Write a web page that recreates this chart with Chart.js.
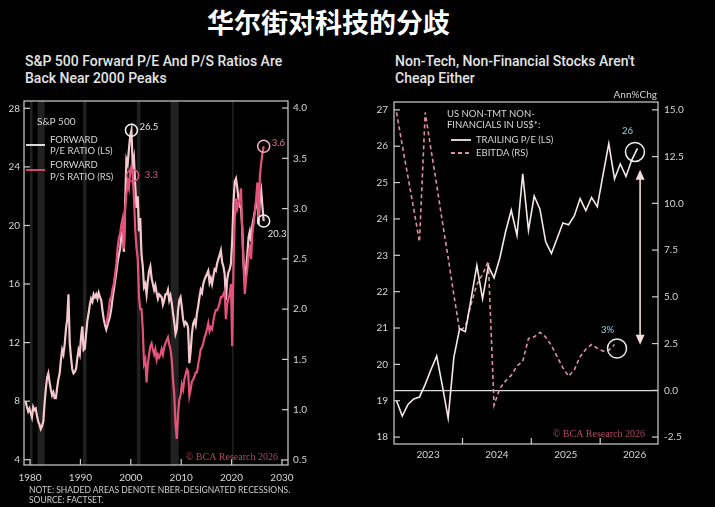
<!DOCTYPE html>
<html>
<head>
<meta charset="utf-8">
<script src="https://cdn.jsdelivr.net/npm/chart.js@4.4.1/dist/chart.umd.min.js"></script>
<style>
  html, body { margin: 0; padding: 0; background: #000; }
  body { width: 715px; height: 507px; position: relative; overflow: hidden; font-family: Roboto, "Open Sans", sans-serif; }
  .head { position: absolute; left: 0; width: 657px; top: 2px; text-align: center; color: #fff; font: 700 27px "Noto Sans CJK SC"; }
  .title { position: absolute; top: 53px; color: #e4e4e4; font-size: 14px; font-weight: 500; line-height: 17px; white-space: nowrap; }
  .note { position: absolute; left: 29px; top: 485px; color: #cfcfcf; font: 8.5px Lato; line-height: 10px; }
  canvas { position: absolute; }
</style>
</head>
<body>
<div class="head">华尔街对科技的分歧</div>
<div class="title" style="left:25px">S&amp;P 500 Forward P/E And P/S Ratios Are<br>Back Near 2000 Peaks</div>
<div class="title" style="left:395px">Non-Tech, Non-Financial Stocks Aren't<br>Cheap Either</div>
<canvas id="left" width="330" height="400" style="left:0;top:90px"></canvas>
<canvas id="right" width="328" height="374" style="left:370px;top:90px"></canvas>
<div class="note">NOTE: SHADED AREAS DENOTE NBER-DESIGNATED RECESSIONS.<br>SOURCE: FACTSET.</div>

<script>
// ---- left panel: S&P 500 forward ratios (quarterly, from 1979 Q1)
const peStart = 1979.125;
const peValues = [
  8.0, 7.6, 7.3, 7.5,   7.2, 6.9, 7.6, 7.4,   7.5, 7.0, 6.6, 6.4,   6.1, 6.3, 6.6, 7.8,
  8.8, 9.6, 9.9, 9.3,   8.8, 8.4, 8.6, 8.2,   8.2, 8.9, 9.5, 9.9,   10.8, 11.5, 11.2, 11.9,
  12.9, 13.6, 15.3, 12.0, 11.0, 10.2, 9.9, 10.0, 10.2, 10.9, 11.5, 11.2, 12.4, 13.1, 11.5, 11.6,
  12.6, 13.5, 14.0, 14.6, 15.0, 14.8, 15.3, 15.1, 15.3, 15.0, 15.4, 15.1, 14.9, 14.2, 13.6, 13.2,
  12.9, 13.2, 13.5, 13.8, 14.3, 15.0, 15.6, 16.2, 16.8, 17.5, 18.0, 18.4, 19.3, 19.6, 18.2, 21.5,
  24.5, 24.2, 25.2, 26.1, 26.5, 24.1, 24.6, 22.8, 21.2, 22.0, 19.6, 20.5, 18.0, 17.2, 15.8, 16.0,
  15.3, 16.2, 16.9, 17.2, 16.4, 16.0, 15.6, 15.9, 15.4, 15.0, 15.3, 15.2, 15.1, 14.6, 14.9, 15.3,
  15.3, 15.6, 14.9, 15.2, 14.7, 14.0, 13.4, 12.6, 12.9, 14.2, 14.9, 15.1, 14.4, 13.6, 13.2, 13.4,
  13.3, 13.0, 10.6, 11.4, 12.6, 13.3, 13.5, 13.2, 14.0, 14.5, 15.1, 15.6, 15.4, 16.0, 16.3, 16.5,
  16.7, 16.9, 16.1, 16.4, 16.0, 16.5, 17.0, 16.9, 17.4, 17.7, 18.0, 18.3, 17.5, 17.2, 16.7, 14.9,
  16.3, 16.8, 17.0, 17.4, 19.0, 21.5, 23.0, 23.2, 22.6, 21.8, 21.3, 21.2, 19.8, 17.4, 16.2, 17.0,
  18.0, 19.2, 19.6, 18.9, 20.0, 20.5, 21.0, 21.5, 21.8, 20.1, 21.9, 22.4, 21.3, 20.3
];
const psStart = 1995.125;
const psValues = [
  1.85, 1.92, 2.0, 2.1,  2.12, 2.2, 2.25, 2.35,  2.45, 2.61, 2.7, 2.75,  2.84, 2.9, 2.6, 3.0,
  3.15, 3.25, 3.2, 3.38, 3.42, 3.33, 3.1, 2.8,   2.61, 2.5, 2.12, 2.0,   2.0, 1.8, 1.46, 1.5,
  1.27, 1.45, 1.55, 1.63, 1.66, 1.6, 1.55, 1.6,  1.5, 1.55, 1.52, 1.55,  1.6, 1.55, 1.62, 1.66,
  1.69, 1.72, 1.65, 1.6, 1.5, 1.3, 1.15, 0.85,   0.71, 0.95, 1.1, 1.14,  1.25, 1.2, 1.3, 1.35,
  1.4, 1.38, 1.14, 1.2,  1.28, 1.3, 1.33, 1.37,  1.37, 1.45, 1.52, 1.6,  1.62, 1.66, 1.72, 1.75,
  1.8, 1.86, 1.78, 1.82, 1.8, 1.88, 1.95, 1.99,  1.99, 2.02, 2.06, 2.12,  2.12, 2.15, 2.18, 1.9,
  2.05, 2.1, 2.15, 2.25, 1.63, 2.4, 2.9, 3.1,    3.0, 3.05, 3.1, 3.2,    2.75, 2.44, 2.15, 2.3,
  2.4, 2.55, 2.61, 2.5,  2.75, 2.85, 2.97, 3.1,  3.26, 2.9, 3.33, 3.45,  3.55, 3.62
];
const recStart = [1980.0, 1981.5, 1990.5, 2001.2, 2007.9, 2020.1];
const recEnd   = [1980.5, 1982.9, 1991.2, 2001.9, 2009.5, 2020.3];
const leftYears = [1980, 1990, 2000, 2010, 2020, 2030];
const peTicks = [4, 8, 12, 16, 20, 24, 28];
const psTicks = [0.5, 1.0, 1.5, 2.0, 2.5, 3.0, 3.5, 4.0];

// ---- right panel: US non-TMT non-financials (monthly, from Jul 2022)
const monthStart = 2022.5;
const trailingPE = [
  19.0, 18.58, 18.9, 19.05, 19.1, 19.45, 19.85, 20.23, 19.4, 18.52, 20.2, 20.98,
  20.9, 21.8, 22.72, 21.8, 22.7, 22.38, 22.92, 23.64, 24.24, 23.55, 25.24, 23.69,
  24.63, 24.27, 23.37, 23.05, 23.47, 23.89, 23.84, 24.09, 24.56, 24.23, 24.59, 24.34,
  25.22, 26.07, 25.1, 25.51, 25.17, 25.62, 25.94
];
const ebitdaGrowth = [
  14.86, 13.1, 11.4, 9.7, 7.94, 14.86, 12.9, 11.0, 9.0, 7.1, 5.1, 3.2,
  3.4, 4.6, 5.66, 6.2, 6.9, -0.8, 0.1, 0.5, 0.8, 1.3, 1.55, 2.77,
  2.86, 3.1, 2.85, 2.4, 1.8, 1.2, 0.75, 1.1, 1.8, 2.2, 2.45, 2.25,
  2.1, 2.15, 2.45
];
const rightYears = [2023, 2024, 2025, 2026];
const rightYearMarks = [2023.5, 2024.5, 2025.5];
const trailTicks = [18, 19, 20, 21, 22, 23, 24, 25, 26, 27];
const ebitdaTicks = [-2.5, 0, 2.5, 5, 7.5, 10, 12.5, 15];

const AXIS = '#cfcfcf';
const TXT = '#d6d6d6';
const PINK = '#e3527a';
const LIGHT = '#f5c8cf';

Chart.defaults.font.family = 'Lato';
Chart.defaults.font.size = 10;
Chart.defaults.color = TXT;

const setTicks = (vals) => (s) => { s.ticks = vals.map(v => ({ value: v })); };

// frame, inward tick marks, shading, in-plot legend and callouts
const panel = {
  id: 'panel',
  beforeDatasetsDraw(chart, args, o) {
    const { ctx, chartArea: a, scales } = chart;
    if (!o.shade) return;
    ctx.save();
    ctx.fillStyle = 'rgba(255,255,255,0.13)';
    o.shade.start.forEach((s, i) => {
      const x0 = scales.x.getPixelForValue(s);
      const x1 = scales.x.getPixelForValue(o.shade.end[i]);
      ctx.fillRect(x0, a.top, Math.max(1.5, x1 - x0), a.bottom - a.top);
    });
    ctx.restore();
  },
  afterDraw(chart, args, o) {
    const { ctx, chartArea: a, scales } = chart;
    ctx.save();
    ctx.strokeStyle = AXIS;
    ctx.lineWidth = 1.2;
    ctx.strokeRect(a.left, a.top, a.right - a.left, a.bottom - a.top);
    const seg = (x1, y1, x2, y2) => { ctx.beginPath(); ctx.moveTo(x1, y1); ctx.lineTo(x2, y2); ctx.stroke(); };
    ['y', 'y1'].forEach(id => {
      const s = scales[id];
      s.ticks.forEach(t => {
        const y = s.getPixelForValue(t.value);
        if (s.position === 'left') seg(a.left, y, a.left + 6, y);
        else seg(a.right - 6, y, a.right, y);
      });
    });
    (o.xMarks || scales.x.ticks.map(t => t.value)).forEach(v => {
      const x = scales.x.getPixelForValue(v);
      seg(x, a.bottom, x, a.bottom - 6);
    });

    ctx.textBaseline = 'middle';
    (o.keys || []).forEach(k => {
      ctx.strokeStyle = k.color;
      ctx.lineWidth = 1.8;
      ctx.setLineDash(k.dash || []);
      seg(a.left + k.x1, a.top + k.y, a.left + k.x2, a.top + k.y);
    });
    ctx.setLineDash([]);
    (o.texts || []).forEach(t => {
      ctx.font = t.font || '9.5px Lato';
      ctx.fillStyle = t.color || TXT;
      ctx.textAlign = t.align || 'left';
      ctx.fillText(t.text, a.left + t.x, a.top + t.y);
    });
    (o.circles || []).forEach(c => {
      const meta = chart.getDatasetMeta(c.ds);
      const el = meta.data[c.i === undefined ? meta.data.length - 1 : c.i];
      ctx.strokeStyle = c.color;
      ctx.lineWidth = 1.5;
      ctx.beginPath();
      ctx.arc(el.x + (c.cx || 0), el.y + (c.cy || 0), c.r, 0, Math.PI * 2);
      ctx.stroke();
      ctx.font = '9.5px Lato';
      ctx.fillStyle = c.lc;
      ctx.textAlign = c.align || 'left';
      ctx.fillText(c.label, el.x + c.dx, el.y + c.dy);
    });
    if (o.arrow) {
      const ar = o.arrow;
      const x = scales.x.getPixelForValue(ar.x);
      const yt = scales[ar.axis].getPixelForValue(ar.from);
      const yb = scales[ar.axis].getPixelForValue(ar.to);
      ctx.strokeStyle = ar.color;
      ctx.fillStyle = ar.color;
      ctx.lineWidth = 1.6;
      seg(x, yt + 6, x, yb - 6);
      ctx.beginPath(); ctx.moveTo(x, yt); ctx.lineTo(x - 4.5, yt + 10); ctx.lineTo(x + 4.5, yt + 10); ctx.fill();
      ctx.beginPath(); ctx.moveTo(x, yb); ctx.lineTo(x - 4.5, yb - 10); ctx.lineTo(x + 4.5, yb - 10); ctx.fill();
    }
    ctx.restore();
  }
};

const hidden = { drawOnChartArea: false, drawTicks: false };

new Chart(document.getElementById('left'), {
  type: 'line',
  data: {
    datasets: [
      {
        label: 'FORWARD P/S RATIO (RS)',
        data: psValues.map((v, i) => ({ x: psStart + i / 4, y: v })),
        yAxisID: 'y1',
        borderColor: PINK,
        borderWidth: 2.2,
        pointRadius: 0
      },
      {
        label: 'FORWARD P/E RATIO (LS)',
        data: peValues.map((v, i) => ({ x: peStart + i / 4, y: v })),
        yAxisID: 'y',
        borderColor: LIGHT,
        borderWidth: 2.2,
        pointRadius: 0
      }
    ]
  },
  options: {
    responsive: false,
    animation: false,
    events: [],
    layout: { padding: { top: 6 } },
    plugins: {
      legend: { display: false },
      tooltip: { enabled: false },
      panel: {
        shade: { start: recStart, end: recEnd },
        keys: [
          { x1: 2, x2: 21, y: 44, color: '#f2f2f2' },
          { x1: 2, x2: 21, y: 69, color: PINK }
        ],
        texts: [
          { text: 'S&P 500', x: 13, y: 21, font: '10px Lato' },
          { text: 'FORWARD', x: 26, y: 39 },
          { text: 'P/E RATIO (LS)', x: 26, y: 50 },
          { text: 'FORWARD', x: 26, y: 64 },
          { text: 'P/S RATIO (RS)', x: 26, y: 76 },
          { text: '\u00a9 BCA Research 2026', x: 254, y: 356, align: 'right', color: '#b3475f', font: '10px "Liberation Serif"' }
        ],
        circles: [
          { ds: 1, i: 84, r: 6, color: '#f4f4f4', label: '26.5', dx: 8, dy: -3, lc: '#e6e6e6' },
          { ds: 0, i: 21, r: 6, color: PINK, label: '3.3', dx: 12, dy: 0, lc: PINK },
          { ds: 0, r: 6, color: '#f1b3c1', label: '3.6', dx: 8, dy: -3, lc: '#e77b96' },
          { ds: 1, r: 6, color: '#f4f4f4', label: '20.3', dx: 4, dy: 13, lc: '#e6e6e6' }
        ]
      }
    },
    scales: {
      x: {
        type: 'linear',
        min: 1978.8,
        max: 2031.2,
        afterBuildTicks: setTicks(leftYears),
        afterFit: (s) => { s.height = 25; },
        grid: hidden,
        border: { display: false },
        ticks: { padding: 7, callback: (v) => String(v), maxRotation: 0 }
      },
      y: {
        position: 'left',
        min: 3.64,
        max: 28.5,
        afterBuildTicks: setTicks(peTicks),
        afterFit: (s) => { s.width = 24; },
        grid: hidden,
        border: { display: false },
        ticks: { padding: 4, callback: (v) => String(v) }
      },
      y1: {
        position: 'right',
        min: 0.45,
        max: 4.07,
        afterBuildTicks: setTicks(psTicks),
        afterFit: (s) => { s.width = 42; },
        grid: hidden,
        border: { display: false },
        ticks: { padding: 5, callback: (v) => v.toFixed(1) }
      }
    }
  },
  plugins: [panel]
});

new Chart(document.getElementById('right'), {
  type: 'line',
  data: {
    datasets: [
      {
        label: 'TRAILING P/E (LS)',
        data: trailingPE.map((v, i) => ({ x: monthStart + (i + 0.5) / 12, y: v })),
        yAxisID: 'y',
        borderColor: '#f4e9e9',
        borderWidth: 1.6,
        pointRadius: 0
      },
      {
        label: 'EBITDA (RS)',
        data: ebitdaGrowth.map((v, i) => ({ x: monthStart + (i + 0.5) / 12, y: v })),
        yAxisID: 'y1',
        borderColor: '#e08fa2',
        borderWidth: 1.6,
        borderDash: [4, 3],
        pointRadius: 0
      }
    ]
  },
  options: {
    responsive: false,
    animation: false,
    events: [],
    layout: { padding: { top: 6 } },
    plugins: {
      legend: { display: false },
      tooltip: { enabled: false },
      panel: {
        xMarks: rightYearMarks,
        keys: [
          { x1: 57, x2: 77, y: 38, color: '#f3e8e8' },
          { x1: 57, x2: 77, y: 51, color: '#e08fa2', dash: [4, 3] }
        ],
        texts: [
          { text: 'US NON-TMT NON-', x: 53, y: 12 },
          { text: 'FINANCIALS IN US$*:', x: 53, y: 23 },
          { text: 'TRAILING P/E (LS)', x: 82, y: 38 },
          { text: 'EBITDA (RS)', x: 82, y: 51 },
          { text: 'Ann%Chg', x: 263, y: -7, align: 'right', font: '10px Lato' },
          { text: '\u00a9 BCA Research 2026', x: 251, y: 332, align: 'right', color: '#b3475f', font: '10px "Liberation Serif"' }
        ],
        circles: [
          { ds: 0, r: 9.5, cx: -2.5, cy: 3.5, color: '#eeeeee', label: '26', dx: -10, dy: -17, lc: '#8fd8ea', align: 'center' },
          { ds: 1, r: 9.5, cx: 2.5, cy: 4, color: '#e9e9e9', label: '3%', dx: -7, dy: -15, lc: '#8fd8ea', align: 'center' }
        ],
        arrow: { x: 2026.08, axis: 'y1', from: 11.8, to: 2.44, color: '#f3dcdc' }
      }
    },
    scales: {
      x: {
        type: 'linear',
        min: 2022.505,
        max: 2026.34,
        afterBuildTicks: setTicks(rightYears),
        afterFit: (s) => { s.height = 20; },
        grid: hidden,
        border: { display: false },
        ticks: { padding: 5, callback: (v) => String(v), maxRotation: 0 }
      },
      y: {
        position: 'left',
        min: 17.81,
        max: 27.216,
        afterBuildTicks: setTicks(trailTicks),
        afterFit: (s) => { s.width = 24; },
        grid: hidden,
        border: { display: false },
        ticks: { padding: 6, callback: (v) => String(v) }
      },
      y1: {
        position: 'right',
        min: -2.87,
        max: 15.42,
        afterBuildTicks: setTicks(ebitdaTicks),
        afterFit: (s) => { s.width = 40; },
        grid: {
          drawTicks: false,
          color: (c) => (c.tick && c.tick.value === 0 ? '#dcdcdc' : 'rgba(0,0,0,0)'),
          lineWidth: 1.2
        },
        border: { display: false },
        ticks: { padding: 6, callback: (v) => v.toFixed(1) }
      }
    }
  },
  plugins: [panel]
});
</script>
</body>
</html>
